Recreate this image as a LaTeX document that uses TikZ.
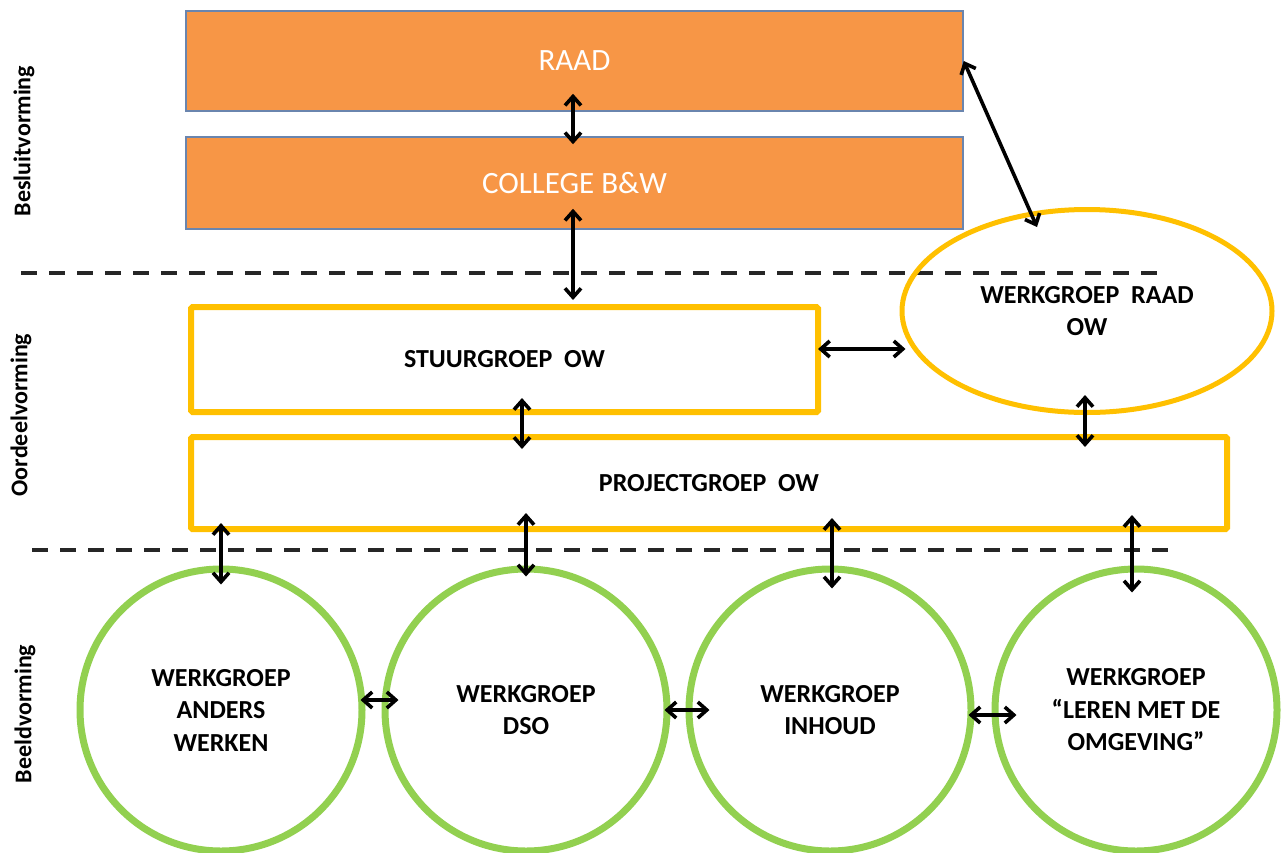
\documentclass[tikz,border=0pt]{standalone}
\usepackage{fontspec}
\setmainfont{Carlito}
\usetikzlibrary{arrows.meta,shapes.geometric,calc}
\definecolor{orng}{HTML}{F79646}
\definecolor{bordblue}{HTML}{6A85AE}
\definecolor{gold}{HTML}{FFC000}
\definecolor{lgreen}{HTML}{92D050}
\begin{document}
\begin{tikzpicture}[x=1pt,y=-1pt,
  orbox/.style={draw=bordblue, line width=1.5pt, fill=orng, minimum width=777pt, text=white, inner sep=0pt, font=\fontsize{31}{36}\selectfont},
  ybox/.style={draw=gold, line width=6pt, rounded corners=1.5pt, inner sep=0pt, font=\bfseries\fontsize{26}{30}\selectfont},
  gcirc/.style={circle, draw=lgreen, line width=7pt, minimum size=282pt, inner sep=0pt, align=center, font=\bfseries\fontsize{26}{32.5}\selectfont},
  yell/.style={ellipse, draw=gold, line width=5pt, minimum width=370pt, minimum height=203pt, inner sep=0pt, align=center, font=\bfseries\fontsize{26}{32}\selectfont},
  dbl/.style={{Straight Barb[length=9pt,width=16pt]}-{Straight Barb[length=9pt,width=16pt]}, line width=3.6pt},
  sepline/.style={dash pattern=on 16pt off 12pt, line width=4pt, black!85},
  side/.style={rotate=90, font=\bfseries\fontsize{24}{28}\selectfont}
]
\useasboundingbox (0,0) rectangle (1282,852);
% dashed separators
\coordinate (d1a) at (21,273);
\coordinate (d1b) at (1160,273);
\coordinate (d2a) at (32,550);
\coordinate (d2b) at (1170,550);
\draw[sepline] (d1a) -- (d1b);
\draw[sepline] (d2a) -- (d2b);
% side labels
\node[side] (lb1) at (24,141) {Besluitvorming};
\node[side] (lb2) at (21,415) {Oordeelvorming};
\node[side] (lb3) at (25,714) {Beeldvorming};
% boxes
\node[orbox, minimum height=100pt] (raad) at (574.5,61) {RAAD};
\node[orbox, minimum height=92pt] (college) at (574.5,183) {COLLEGE B\&W};
\node[ybox, minimum width=627pt, minimum height=105pt] (stuur) at (504.5,359.5) {STUURGROEP\ \ OW};
\node[ybox, minimum width=1036pt, minimum height=92pt] (proj) at (709,483) {PROJECTGROEP\ \ OW};
\node[yell] (wraad) at (1087,311) {WERKGROEP\ \ RAAD\\OW};
% circles
\node[gcirc] (c1) at (221,710) {WERKGROEP\\ANDERS\\WERKEN};
\node[gcirc] (c2) at (526,710) {WERKGROEP\\DSO};
\node[gcirc] (c3) at (830,710) {WERKGROEP\\INHOUD};
\node[gcirc] (c4) at (1136,710) {WERKGROEP\\``LEREN MET DE\\OMGEVING''};
% column helpers
\coordinate (x573) at (573,0);
\coordinate (x522) at (522,0);
\coordinate (x1085) at (1085,0);
\coordinate (x221) at (221,0);
\coordinate (x526) at (526,0);
\coordinate (x832) at (832,0);
\coordinate (x1132) at (1132,0);
\coordinate (y349) at (0,349);
\coordinate (wtip) at (1037,227);
% connectors
\draw[dbl, shorten <=-18pt, shorten >=-8pt] (raad.south -| x573) -- (college.north -| x573);
\draw[dbl, shorten <=-21pt, shorten >=4pt] (college.south -| x573) -- (stuur.north -| x573);
\draw[dbl] (raad.east) -- (wtip);
\draw[dbl, shorten <=-3pt, shorten >=-6pt] (stuur.east |- y349) -- (wraad.west |- y349);
\draw[dbl, shorten <=-17pt, shorten >=-15pt] (stuur.south -| x522) -- (proj.north -| x522);
\draw[dbl, shorten <=-20pt, shorten >=-13pt] (wraad.south -| x1085) -- (proj.north -| x1085);
\draw[dbl, shorten <=-9pt, shorten >=-19pt] (proj.south -| x221) -- (c1.north -| x221);
\draw[dbl, shorten <=-19pt, shorten >=-11pt] (proj.south -| x526) -- (c2.north -| x526);
\draw[dbl, shorten <=-14pt, shorten >=-23pt] (proj.south -| x832) -- (c3.north -| x832);
\draw[dbl, shorten <=-17pt, shorten >=-27pt] (proj.south -| x1132) -- (c4.north -| x1132);
\draw[dbl, shorten <=-5pt, shorten >=-17pt] ($(c1.east)+(0,-10)$) -- ($(c2.west)+(0,-10)$);
\draw[dbl, shorten <=-6pt, shorten >=-24pt] (c2.east) -- (c3.west);
\draw[dbl, shorten <=-6pt, shorten >=-25pt] ($(c3.east)+(0,5)$) -- ($(c4.west)+(0,5)$);
\end{tikzpicture}
\end{document}
